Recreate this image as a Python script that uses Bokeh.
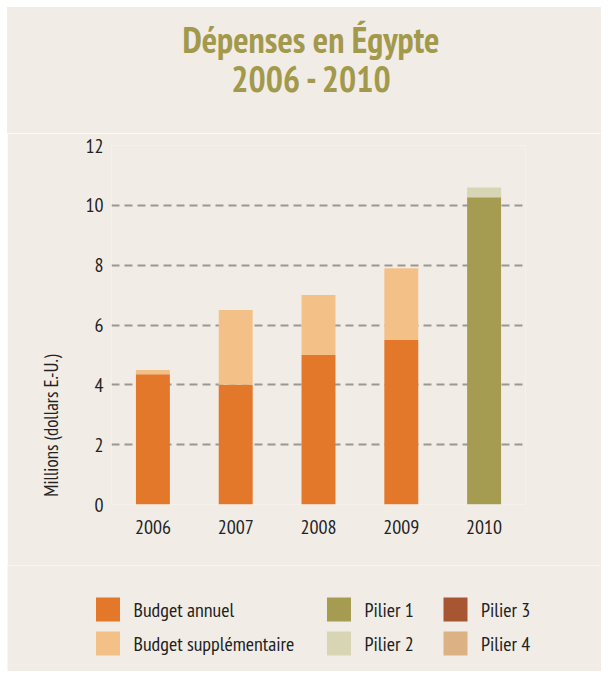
from bokeh.plotting import figure
from bokeh.models import ColumnDataSource, FactorRange, Range1d, SingleIntervalTicker, Div
from bokeh.layouts import column
from bokeh.embed import file_html
from bokeh.resources import INLINE
from bokeh.core.properties import value

years = ["2006", "2007", "2008", "2009", "2010"]
budget_annuel = [4.35, 4.0, 5.0, 5.5, 0.0]
budget_supp = [0.15, 2.5, 2.0, 2.4, 0.0]
pilier1 = [0.0, 0.0, 0.0, 0.0, 10.27]
pilier2 = [0.0, 0.0, 0.0, 0.0, 0.33]
pilier3 = [0.0, 0.0, 0.0, 0.0, 0.0]
pilier4 = [0.0, 0.0, 0.0, 0.0, 0.0]

series_names = ["Budget annuel", "Budget supplémentaire", "Pilier 1", "Pilier 2", "Pilier 3", "Pilier 4"]
series_keys = ["ba", "bs", "p1", "p2", "p3", "p4"]
colors = ["#e3772a", "#f3c187", "#a59c52", "#d7d5b4", "#a85532", "#dcb285"]

title_lines = ["Dépenses en Égypte", "2006 - 2010"]
y_label = "Millions (dollars E.-U.)"

BG = "#f1ede6"
FONT = "'PT Sans Narrow', 'Roboto Condensed', 'Barlow Semi Condensed', 'Open Sans Condensed', 'Liberation Sans Narrow', Lato, sans-serif"
TITLE_COLOR = "#a2994c"

# title block
title_html = (
    '<div style="box-sizing:border-box; width:594px; height:126px; margin:0; '
    'padding-top:13px; padding-left:14px; background:%s; color:%s; '
    "font-family:%s; font-weight:bold; font-size:36px; line-height:39px; "
    'text-align:center;">%s<br>%s</div>'
    % (BG, TITLE_COLOR, FONT.replace('"', "'"), title_lines[0], title_lines[1])
)
title_div = Div(text=title_html, width=594, height=126, margin=0,
                styles={"background-color": BG})

source = ColumnDataSource(dict(years=years, ba=budget_annuel, bs=budget_supp,
                               p1=pilier1, p2=pilier2, p3=pilier3, p4=pilier4))

p = figure(x_range=FactorRange(*years, range_padding=0.0), y_range=Range1d(0, 12),
           width=594, height=432, output_backend="svg", toolbar_location=None,
           min_border_left=104, min_border_right=76, min_border_top=12, min_border_bottom=61)
p.frame_align = False
p.background_fill_color = BG
p.border_fill_color = BG
p.outline_line_color = None
p.title.visible = False

p.vbar_stack(series_keys, x="years", width=0.41, color=colors, line_color=None, source=source)

p.xgrid.grid_line_color = None
p.ygrid.grid_line_color = "#9a9896"
p.ygrid.grid_line_width = 2
p.ygrid.grid_line_dash = "8 5"
p.yaxis.ticker = SingleIntervalTicker(interval=2)

for ax in (p.xaxis, p.yaxis):
    ax.axis_line_color = None
    ax.major_tick_line_color = None
    ax.minor_tick_line_color = None
    ax.major_label_text_font = FONT
    ax.major_label_text_font_size = "20px"
    ax.major_label_text_color = "#222222"

p.yaxis.major_label_standoff = 2
p.xaxis.major_label_standoff = 9

# axis title sits low along the axis in the original: pad its end with no-break spaces
p.yaxis.axis_label = y_label + "\u00a0" * 50
p.yaxis.axis_label_text_font = FONT
p.yaxis.axis_label_text_font_size = "19px"
p.yaxis.axis_label_text_font_style = "normal"
p.yaxis.axis_label_text_color = "#222222"
p.yaxis.axis_label_standoff = 20

# legend figure (its own pixel coordinates)
leg_x_swatch = [100.5, 100.5, 331.5, 331.5, 448, 448]
leg_y_row = [44, 78, 44, 78, 44, 78]
lsrc = ColumnDataSource(dict(
    x=leg_x_swatch,
    y=leg_y_row,
    tx=[v + 25.5 for v in leg_x_swatch],
    label=series_names,
    color=colors,
))
lf = figure(x_range=Range1d(0, 594), y_range=Range1d(106, 0), width=594, height=106,
            output_backend="svg", toolbar_location=None,
            min_border=0, min_border_left=0, min_border_right=0, min_border_top=0, min_border_bottom=0)
lf.frame_align = False
lf.axis.visible = False
lf.grid.visible = False
lf.background_fill_color = BG
lf.border_fill_color = BG
lf.outline_line_color = None
lf.rect(x="x", y="y", width=24, height=24, color="color", line_color=None, source=lsrc)
lf.text(x="tx", y="y", text="label", text_font=value(FONT), text_font_size="20px",
        text_baseline="middle", text_align="left", text_color="#222222", source=lsrc)

layout = column(title_div, p, lf, spacing=0, margin=(7, 7, 7, 7))
open("out.html", "w").write(file_html(layout, INLINE))
